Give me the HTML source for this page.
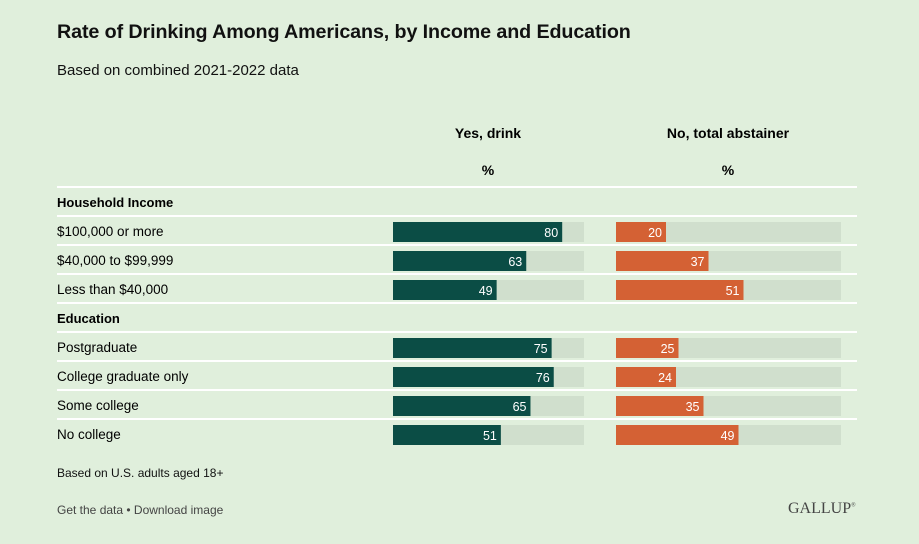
<!DOCTYPE html>
<html><head><meta charset="utf-8"><style>
body{margin:0;width:919px;height:544px;background:#e0efdc;font-family:"Liberation Sans",sans-serif;color:#111;position:relative;overflow:hidden}
.t{position:absolute;white-space:nowrap}
</style></head><body>
<div class="t" style="left:57px;top:21px;font-size:19.7px;font-weight:bold;letter-spacing:-0.1px">Rate of Drinking Among Americans, by Income and Education</div>
<div class="t" style="left:57px;top:62px;font-size:15px">Based on combined 2021-2022 data</div>
<svg id="c" width="919" height="544" style="position:absolute;left:0;top:0"></svg>
<div class="t" style="left:57px;top:466px;font-size:12px">Based on U.S. adults aged 18+</div>
<div class="t" style="left:57px;top:503px;font-size:12px;color:#444">Get the data • Download image</div>
<div class="t" style="left:788px;top:500px;font-size:16px;font-family:'Liberation Serif',serif;color:#444">GALLUP<sup style="font-size:6px">®</sup></div>
<script>
const labels=["Household Income","$100,000 or more","$40,000 to $99,999","Less than $40,000","Education","Postgraduate","College graduate only","Some college","No college"];
const yesVals=[null,80,63,49,null,75,76,65,51];
const noVals=[null,20,37,51,null,25,24,35,49];
const svg=document.getElementById('c');
const NS='http://www.w3.org/2000/svg';
function mk(tag,attrs,txt){const e=document.createElementNS(NS,tag);for(const k in attrs)e.setAttribute(k,attrs[k]);if(txt!=null)e.textContent=txt;svg.appendChild(e);return e;}
const yesX=v=>393+v*2.115, noX=v=>616+v*2.5;
let h;
h=mk('text',{x:488,y:138,'text-anchor':'middle','font-size':14,'font-weight':'bold'},'Yes, drink');

h=mk('text',{x:728,y:138,'text-anchor':'middle','font-size':14,'font-weight':'bold'},'No, total abstainer');

h=mk('text',{x:488,y:175,'text-anchor':'middle','font-size':14,'font-weight':'bold'},'%');

h=mk('text',{x:728,y:175,'text-anchor':'middle','font-size':14,'font-weight':'bold'},'%');

h=mk('line',{x1:57,x2:857,y1:187,y2:187,stroke:'#fff','stroke-width':2});

labels.forEach((l,i)=>{
  const top=187+i*29, head=yesVals[i]==null;
  const t=mk('text',{x:57,y:top+20,'font-size':head?13:13.5,'font-weight':head?'bold':'normal'},l);
  
  
  if(i<labels.length-1){const ln=mk('line',{x1:57,x2:857,y1:top+29,y2:top+29,stroke:'#fff','stroke-width':2});
  }
  if(head)return;
  const by=top+6;
  let r=mk('rect',{x:393,y:by,width:yesX(90.3)-393,height:20,fill:'#d0dfcd'});
  
  r=mk('rect',{x:393,y:by,width:yesX(yesVals[i])-393,height:20,fill:'#0b4d45'});
  
  r=mk('text',{x:yesX(yesVals[i])-4,y:by+15,'text-anchor':'end','font-size':12.5,fill:'#fff'},yesVals[i]);
  
  r=mk('rect',{x:616,y:by,width:noX(90)-616,height:20,fill:'#d0dfcd'});
  
  r=mk('rect',{x:616,y:by,width:noX(noVals[i])-616,height:20,fill:'#d46134'});
  
  r=mk('text',{x:noX(noVals[i])-4,y:by+15,'text-anchor':'end','font-size':12.5,fill:'#fff'},noVals[i]);
  
});
</script>
</body></html>
